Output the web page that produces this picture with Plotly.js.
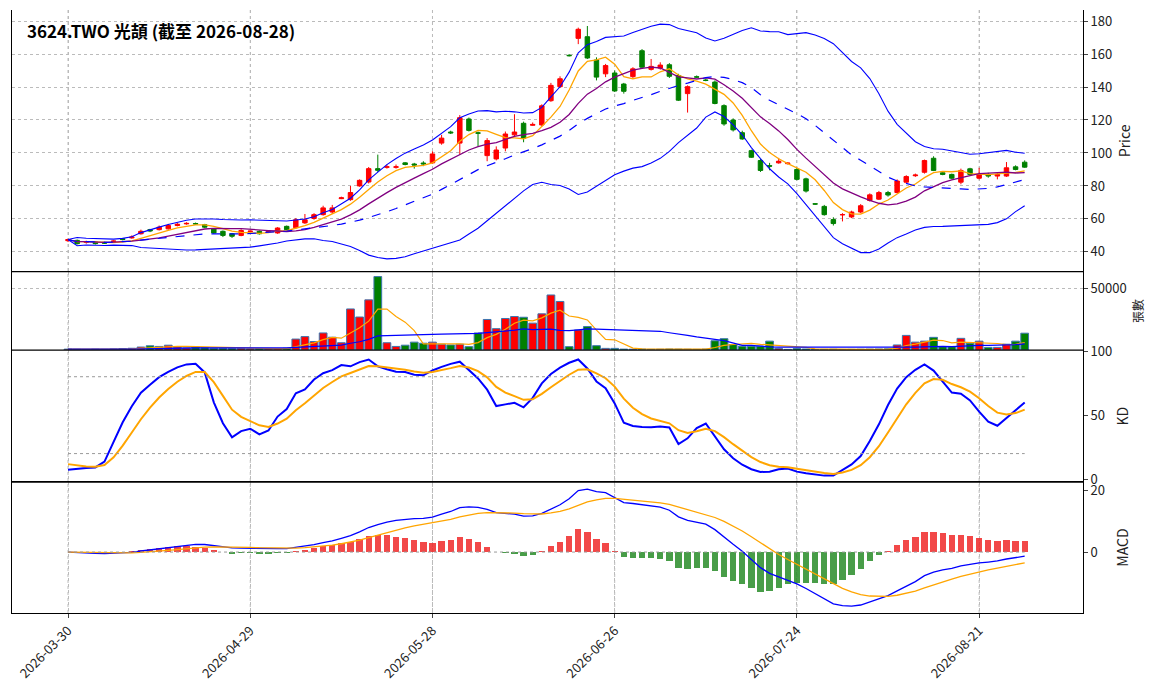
<!DOCTYPE html>
<html>
<head>
<meta charset="utf-8">
<script src="https://cdn.plot.ly/plotly-3.0.1.min.js"></script>
<style>body{margin:0;background:#fff}#chart{width:1163px;height:698px}</style>
</head>
<body>
<div id="chart"></div>
<script>
// Tick labels (every 20 trading days)
var tickIdx = [0, 20, 40, 60, 80, 100];
var tickText = ["2026-03-30", "2026-04-29", "2026-05-28", "2026-06-26", "2026-07-24", "2026-08-21"];

// Daily candles
var opens = [46.8,47,45.8,46,45.8,46.2,48,48.5,51,53.5,53.5,54,56,57,57.2,56.5,54,52.5,51,50,
  52.3,52.5,52.3,51.5,55.5,54.7,57.6,60.3,62.6,64.2,72.3,71.7,80,82.4,90.5,91.3,91.3,94,93.3,93.9,
  94,106,112.7,106,120.6,112.2,98.4,96.4,103,111,118,116.8,117,131.7,140.2,159.2,169.5,170.5,156.4,148,
  148.5,141.8,146.3,162,150.7,151.5,153.5,147,136,146.2,144.2,143,128.7,120,112.3,101.4,95.4,92.3,94,93.5,
  90,84.3,69.2,67.6,59.6,62.5,61.2,64.2,71.2,72,76,76,82.3,86.2,88.3,96.8,88,87,82.3,90.4,
  84.7,87,86,86,91.6,94.4];
var closes = [47.5,45,46.2,45,45.3,46.6,47.5,49,52.5,52.7,55,56,56.8,57.3,57,55,51.5,50,49.5,53,
  52.6,51,52.6,54.5,53.5,59.5,59.5,62.6,66.7,66.7,72.8,76,83.4,90.5,89.5,91.6,91.6,93,92.7,93.4,
  99.4,109,112.2,121.4,113.7,112,107.5,101.8,111.5,112.7,109,117.3,128.6,141,145,159,175,157.6,146,153,
  137.6,137.4,151,152,152.5,153.3,146.5,132,140.2,146,144,130,117.6,114,108.5,97.4,89.4,92,95,93.8,
  84,76.9,69,62.6,57.2,62.6,64.2,68,74.6,76,74.5,83,85.7,86.6,95.4,89.4,87,84.7,89.4,87,
  87,86,87,91,90,91.4];
var highs = [48,47.5,46.8,46.5,46.2,47,48.5,50,53.5,54,56,57,57.5,58,57.8,57,54.5,53,51.5,53.8,
  53,53,53.2,55,56,60.5,63,63.5,68,68.5,73.5,80,84,91.5,99,93,93,94.5,94,95,
  101,111,113.5,123,121.5,113,109,104,113,123.5,119,118.5,129.5,142.5,146.5,160,176,177,158,154,
  150,142.5,152,163,157,155,154.5,148,141,147,145,144,129.5,121,113.5,102,96.5,94,97,94.5,
  91,85,69.5,68.5,61,63.5,65,69,75.5,77,77,84,86.5,87.5,96,98,88.5,87.5,90.5,91,
  91,88,88,94.5,92.5,95.5];
var lows = [46,44.5,45,44.5,44.8,45.8,47,48,50.5,52,53,53.5,55.5,56.5,56.5,54.5,51,49,48.5,49.5,
  52,50.5,52,51,53,54,57,59.5,62,63,72,71,79.5,81.5,88.5,90.5,90.5,92.5,90.5,92,
  93.5,105,111.5,99,113,104,95,95.5,101,110,106.5,116.5,116,131,139.5,158.5,166,157,144,146,
  137,136,145.5,151,150,150.5,145.5,131.5,124.5,145.5,143.5,129.5,116.5,113,108,97,88.5,89.5,93.5,93,
  83.5,76,68.5,62,56,58.5,60.5,63.5,70.5,71.5,73.5,75.5,81.5,85.5,87.5,89,86.5,84,81,86.5,
  84,85,84,85.5,89.5,91];
var volumes = [800,600,500,700,600,900,1200,1500,2500,3500,3000,4000,2500,1800,2500,2000,1500,1500,1200,1500,
  1000,1200,1000,1200,1500,9000,11000,7000,14000,10500,6000,33600,27000,41000,60000,6000,3000,4000,6500,5600,
  6500,4800,4200,4800,2800,14000,25000,17500,25800,27400,26800,22000,29600,45000,39700,2800,16400,19200,3600,1400,
  1400,800,700,800,600,700,900,800,700,600,800,7600,9300,4500,3200,3200,3200,7300,1400,600,
  1200,900,500,600,700,500,600,700,800,900,1000,4200,12000,6500,7300,10400,2800,2800,9600,5600,
  7300,2200,2200,4800,7300,13800];

var xs = closes.map(function (v, i) { return i; });

// Indicators, built from the series above
function sma(arr, p) {
    return arr.map(function (v, i) {
        var s = arr.slice(Math.max(0, i - p + 1), i + 1);
        return s.reduce(function (a, b) { return a + b; }, 0) / s.length;
    });
}
function ema(arr, p) {
    var k = 2 / (p + 1), out = [], prev = arr[0];
    arr.forEach(function (v) { prev = prev + k * (v - prev); out.push(prev); });
    return out;
}
var ma5 = sma(closes, 5), ma10 = sma(closes, 10), ma20 = sma(closes, 20);
var bbUp = [], bbLo = [];
closes.forEach(function (v, i) {
    var s = closes.slice(Math.max(0, i - 19), i + 1);
    var sd = Math.sqrt(s.reduce(function (a, b) { return a + (b - ma20[i]) * (b - ma20[i]); }, 0) / s.length);
    bbUp.push(ma20[i] + 2 * sd);
    bbLo.push(ma20[i] - 2 * sd);
});
var vma5 = sma(volumes, 5), vma20 = sma(volumes, 20);

// KD (9 days), starting from the level seen at the left edge
var kArr = [], dArr = [], k = 6, d = 14;
closes.forEach(function (c, i) {
    var hh = Math.max.apply(null, highs.slice(Math.max(0, i - 8), i + 1));
    var ll = Math.min.apply(null, lows.slice(Math.max(0, i - 8), i + 1));
    var rsv = i < 4 ? 10 : (hh === ll ? 50 : (c - ll) / (hh - ll) * 100);
    k = k * 2 / 3 + rsv / 3;
    d = d * 2 / 3 + k / 3;
    kArr.push(k); dArr.push(d);
});

// MACD (12, 26, 9)
var e12 = ema(closes, 12), e26 = ema(closes, 26);
var dif = e12.map(function (v, i) { return v - e26[i]; });
var sig = ema(dif, 9);
var osc = dif.map(function (v, i) { return (v - sig[i]) * 1.6; });

var up = closes.map(function (c, i) { return c >= opens[i]; });

var traces = [
    { type: "candlestick", x: xs, open: opens, high: highs, low: lows, close: closes,
      increasing: { line: { color: "red", width: 1 }, fillcolor: "red" },
      decreasing: { line: { color: "green", width: 1 }, fillcolor: "green" },
      whiskerwidth: 0, xaxis: "x", yaxis: "y", hoverinfo: "skip" },
    { x: xs, y: ma5, mode: "lines", line: { color: "orange", width: 1.3 }, yaxis: "y" },
    { x: xs, y: ma10, mode: "lines", line: { color: "purple", width: 1.3 }, yaxis: "y" },
    { x: xs, y: ma20, mode: "lines", line: { color: "blue", width: 1.2, dash: "dash" }, yaxis: "y" },
    { x: xs, y: bbUp, mode: "lines", line: { color: "blue", width: 1.1 }, yaxis: "y" },
    { x: xs, y: bbLo, mode: "lines", line: { color: "blue", width: 1.1 }, yaxis: "y" },

    { type: "bar", x: xs, y: volumes, width: 0.85, yaxis: "y2",
      marker: { color: up.map(function (u) { return u ? "red" : "green"; }),
                line: { color: "#3b75af", width: 1 } } },
    { x: xs, y: vma5, mode: "lines", line: { color: "orange", width: 1.2 }, yaxis: "y2" },
    { x: xs, y: vma20, mode: "lines", line: { color: "blue", width: 1.2 }, yaxis: "y2" },

    { x: xs, y: kArr, mode: "lines", line: { color: "blue", width: 2 }, yaxis: "y3" },
    { x: xs, y: dArr, mode: "lines", line: { color: "orange", width: 2 }, yaxis: "y3" },

    { type: "bar", x: xs, y: osc, width: 0.7, yaxis: "y4",
      marker: { color: osc.map(function (v) { return v >= 0 ? "rgba(240,40,40,0.85)" : "rgba(40,140,40,0.85)"; }) } },
    { x: xs, y: dif, mode: "lines", line: { color: "blue", width: 1.3 }, yaxis: "y4" },
    { x: xs, y: sig, mode: "lines", line: { color: "orange", width: 1.3 }, yaxis: "y4" }
];

var grid = { showgrid: true, gridcolor: "#bbb", griddash: "dot", gridwidth: 1 };
function yax(dom, extra) {
    return Object.assign({ domain: dom, side: "right", anchor: "x", showline: true, mirror: true,
        linecolor: "black", ticks: "outside", ticklen: 4, zeroline: false,
        tickfont: { size: 13, color: "#222" } }, grid, extra);
}

// Panel boundaries (paper fractions)
var bounds = [0.217, 0.436, 0.566];

var layout = {
    width: 1163, height: 698,
    margin: { l: 12, r: 80, t: 10, b: 85 },
    paper_bgcolor: "white", plot_bgcolor: "white",
    showlegend: false, bargap: 0,
    font: { family: "Noto Sans CJK TC, DejaVu Sans, sans-serif", color: "#222" },
    xaxis: Object.assign({ anchor: "y4", range: [-6.15, 111.4], tickvals: tickIdx, ticktext: tickText, tickangle: -45,
        showline: true, mirror: true, linecolor: "black", ticks: "outside", ticklen: 4,
        zeroline: false, rangeslider: { visible: false }, tickfont: { size: 13 } }, grid),
    yaxis: yax([0.566, 1], { range: [28, 186.7], tickvals: [40, 60, 80, 100, 120, 140, 160, 180],
        title: { text: "Price", font: { size: 14 } } }),
    yaxis2: yax([0.436, 0.566], { range: [0, 64000], tickvals: [50000], tickformat: "d",
        title: { text: "張數", font: { size: 12 } } }),
    yaxis3: yax([0.217, 0.436], { range: [-2.3, 100.8], tickvals: [0, 50, 100], showgrid: false,
        title: { text: "KD", font: { size: 14 } } }),
    yaxis4: yax([0, 0.217], { range: [-19.7, 22.6], tickvals: [0, 20], showgrid: false,
        title: { text: "MACD", font: { size: 14 } } }),
    shapes: [20, 80].map(function (v) {
        return { type: "line", xref: "x", yref: "y3", x0: 0, x1: 105, y0: v, y1: v,
                 line: { color: "#999", width: 1, dash: "dot" } };
    }).concat([
        { type: "line", xref: "x", yref: "y4", x0: 0, x1: 105, y0: 0, y1: 0,
          line: { color: "#999", width: 1, dash: "dot" } }
    ]).concat(tickIdx.map(function (t) {
        return { type: "line", xref: "x", yref: "paper", x0: t, x1: t, y0: 0, y1: 1,
                 line: { color: "#bbb", width: 1, dash: "dot" }, layer: "below" };
    })).concat(bounds.map(function (b) {
        return { type: "line", xref: "paper", yref: "paper", x0: 0, x1: 1, y0: b, y1: b,
                 line: { color: "black", width: 1.2 } };
    })),
    annotations: [{ text: "<b>3624.TWO 光頡 (截至 2026-08-28)</b>", xref: "paper", yref: "paper",
        x: 0.012, y: 0.99, xanchor: "left", yanchor: "top", showarrow: false,
        font: { size: 17, color: "black" } }]
};

Plotly.newPlot("chart", traces, layout, { displayModeBar: false, staticPlot: true });
</script>
</body>
</html>
